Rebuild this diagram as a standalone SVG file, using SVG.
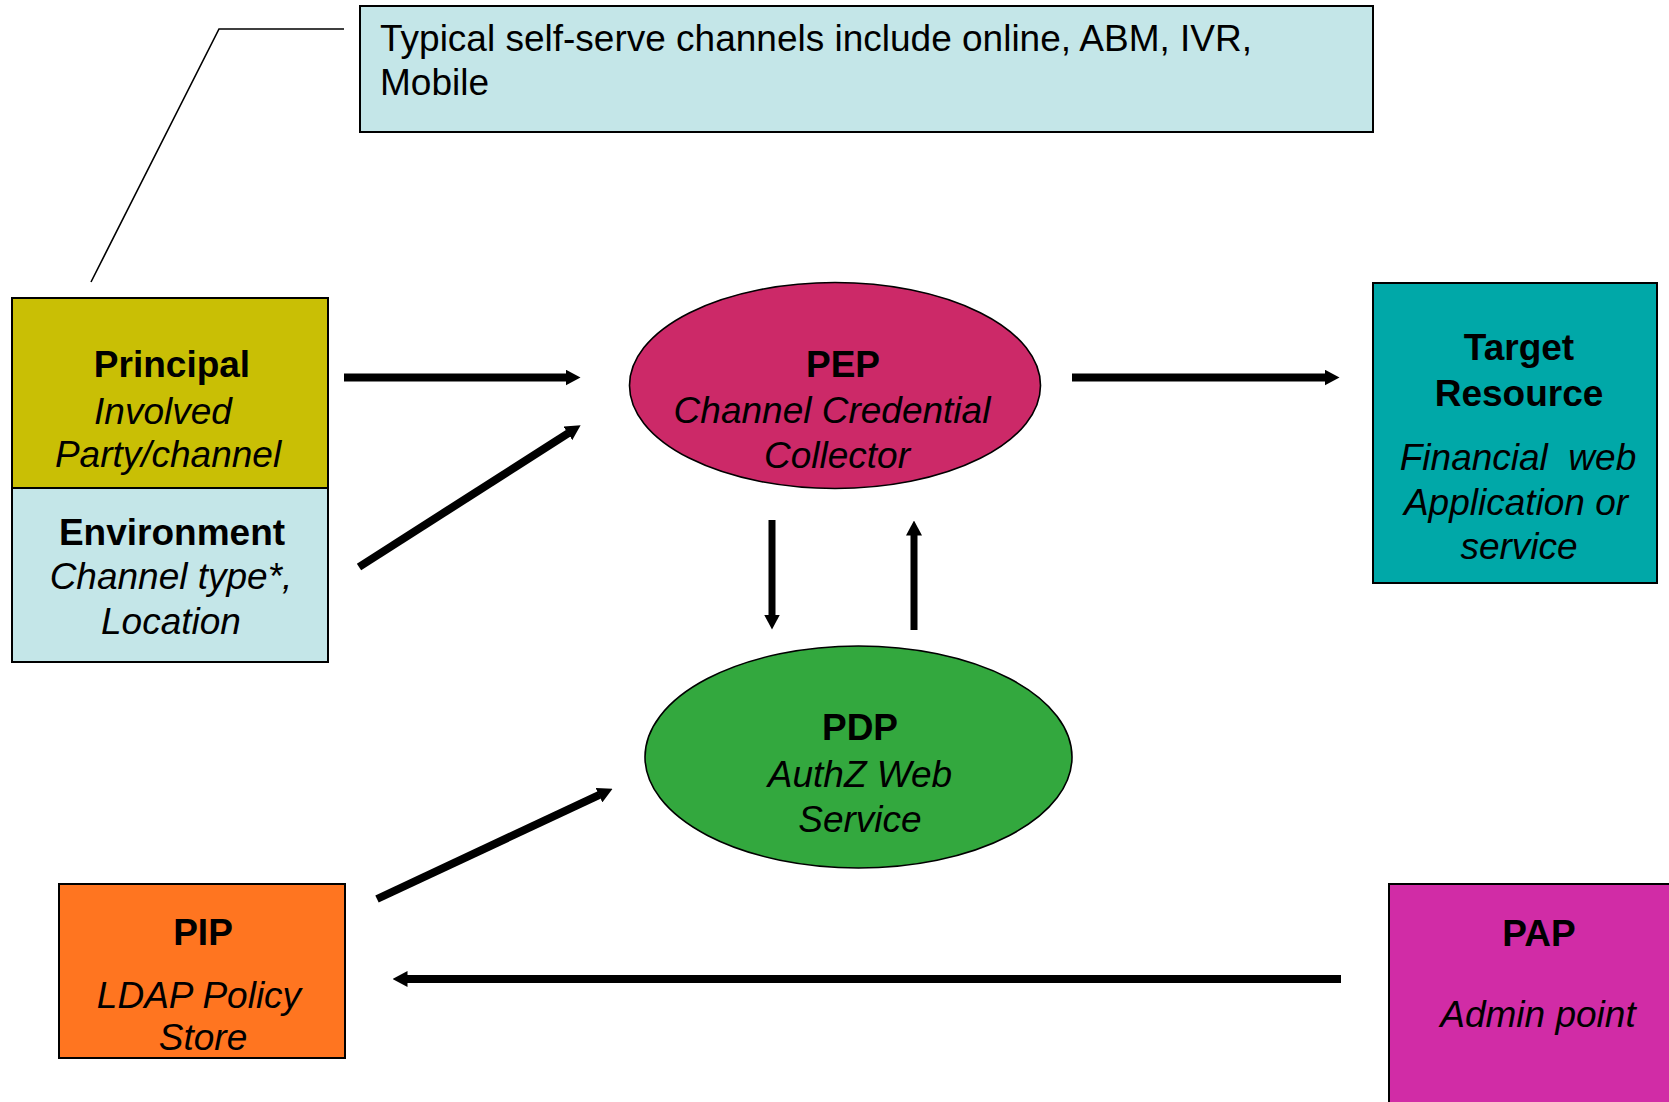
<svg xmlns="http://www.w3.org/2000/svg" width="1669" height="1102" viewBox="0 0 1669 1102">
  <style>
    .box { stroke: #000; stroke-width: 2; }
    .oval { stroke: #000; stroke-width: 1.6; }
    text { font-family: "Liberation Sans", Arial, sans-serif; font-size: 37px; fill: #000; }
    .t { font-weight: bold; text-anchor: middle; }
    .s { font-style: italic; text-anchor: middle; }
    .note { text-anchor: start; }
    .wire { stroke: #000; fill: none; stroke-linecap: butt; }
    .thick { stroke-width: 8; }
    .thin { stroke-width: 7; }
  </style>
  <defs>
    <marker id="head" markerUnits="userSpaceOnUse" markerWidth="15" markerHeight="16" viewBox="0 0 15 16" refX="0.5" refY="8" orient="auto">
      <path d="M0,0 L15,8 L0,16 Z" fill="#000"/>
    </marker>
  </defs>

  <rect width="1669" height="1102" fill="#fff"/>

  <!-- callout describing self-serve channels -->
  <g id="callout">
    <rect class="box" x="360" y="6" width="1013" height="126" fill="#c4e6e8" stroke-width="1.6"/>
    <text class="note" x="380" y="51">Typical self-serve channels include online, ABM, IVR,</text>
    <text class="note" x="380" y="95">Mobile</text>
    <polyline points="344,29 219,29 91,282" fill="none" stroke="#000" stroke-width="1.6"/>
  </g>

  <!-- principal / environment stack -->
  <g id="principal">
    <rect class="box" x="12" y="298" width="316" height="190" fill="#c9bf05" stroke-width="1.6"/>
    <text class="t" x="172" y="377">Principal</text>
    <text class="s" x="163" y="424">Involved</text>
    <text class="s" x="168" y="467">Party/channel</text>
  </g>
  <g id="environment">
    <rect class="box" x="12" y="488" width="316" height="174" fill="#c4e6e8" stroke-width="1.6"/>
    <text class="t" x="172" y="545">Environment</text>
    <text class="s" x="171" y="589">Channel type*,</text>
    <text class="s" x="171" y="634">Location</text>
  </g>

  <g id="pep">
    <ellipse class="oval" cx="835" cy="385.5" rx="205.5" ry="103" fill="#cc2968"/>
    <text class="t" x="843" y="377">PEP</text>
    <text class="s" x="832" y="423">Channel Credential</text>
    <text class="s" x="837" y="468">Collector</text>
  </g>

  <g id="target">
    <rect class="box" x="1373" y="283" width="284" height="300" fill="#00a8a8" stroke-width="1.6"/>
    <text class="t" x="1519" y="360">Target</text>
    <text class="t" x="1519" y="406">Resource</text>
    <text class="s" x="1518" y="470" xml:space="preserve">Financial  web</text>
    <text class="s" x="1516" y="515">Application or</text>
    <text class="s" x="1519" y="559">service</text>
  </g>

  <g id="pdp">
    <ellipse class="oval" cx="858.5" cy="757" rx="213.5" ry="111" fill="#33a83e"/>
    <text class="t" x="860" y="740">PDP</text>
    <text class="s" x="860" y="787">AuthZ Web</text>
    <text class="s" x="860" y="832">Service</text>
  </g>

  <g id="pip">
    <rect class="box" x="59" y="884" width="286" height="174" fill="#ff7520"/>
    <text class="t" x="203" y="945">PIP</text>
    <text class="s" x="199" y="1008">LDAP Policy</text>
    <text class="s" x="203" y="1050">Store</text>
  </g>

  <g id="pap">
    <rect class="box" x="1389" y="884" width="290" height="230" fill="#d12ca6"/>
    <text class="t" x="1539" y="946">PAP</text>
    <text class="s" x="1538" y="1027">Admin point</text>
  </g>

  <!-- connectors -->
  <g id="connectors">
    <line class="wire thick" x1="344" y1="377.5" x2="566" y2="377.5" marker-end="url(#head)"/>
    <line class="wire thick" x1="359" y1="567" x2="568.4" y2="433.1" marker-end="url(#head)"/>
    <line class="wire thick" x1="1072" y1="377.5" x2="1325" y2="377.5" marker-end="url(#head)"/>
    <line class="wire thin" x1="772" y1="520" x2="772" y2="615" marker-end="url(#head)"/>
    <line class="wire thin" x1="914" y1="630" x2="914" y2="535" marker-end="url(#head)"/>
    <line class="wire thick" x1="377" y1="899" x2="599.4" y2="794.9" marker-end="url(#head)"/>
    <line class="wire thick" x1="1341" y1="979" x2="407" y2="979" marker-end="url(#head)"/>
  </g>
</svg>
